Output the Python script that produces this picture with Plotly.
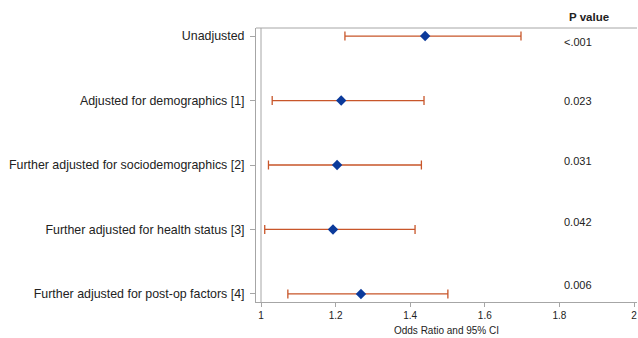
import plotly.graph_objects as go

labels = ["Unadjusted",
          "Adjusted for demographics [1]",
          "Further adjusted for sociodemographics [2]",
          "Further adjusted for health status [3]",
          "Further adjusted for post-op factors [4]"]
odds_ratio = [1.44, 1.215, 1.204, 1.193, 1.268]
ci_lower = [1.225, 1.03, 1.02, 1.01, 1.072]
ci_upper = [1.697, 1.437, 1.43, 1.413, 1.501]
p_values = ["<.001", "0.023", "0.031", "0.042", "0.006"]
x_ticks = [1, 1.2, 1.4, 1.6, 1.8, 2]
x_tick_text = ["1", "1.2", "1.4", "1.6", "1.8", "2"]
reference_or = 1
p_col_x = 1.85
p_header_x = 1.878
p_yshift = [-6, 0, 4, 7, 9]

err_color = "#C8562A"
mk_color = "#0B3A9B"
axis_color = "#A6A6A6"
font_fam = "Liberation Sans, Arial, sans-serif"

fig = go.Figure()
fig.add_trace(go.Scatter(
    x=odds_ratio, y=list(range(len(labels))), mode="markers",
    marker=dict(symbol="diamond", size=8, color=mk_color),
    error_x=dict(type="data", symmetric=False,
                 array=[u - o for u, o in zip(ci_upper, odds_ratio)],
                 arrayminus=[o - l for o, l in zip(odds_ratio, ci_lower)],
                 color=err_color, thickness=1.3, width=4.5),
    showlegend=False, hoverinfo="skip"))

fig.add_shape(type="line", xref="x", yref="paper", x0=reference_or, x1=reference_or,
              y0=0, y1=1, line=dict(color=axis_color, width=1), layer="below")

for i, p in enumerate(p_values):
    fig.add_annotation(x=p_col_x, y=i, xref="x", yref="y", text=p, showarrow=False,
                       yshift=p_yshift[i], font=dict(size=11, color="#222", family=font_fam))
fig.add_annotation(x=p_header_x, y=1, xref="x", yref="paper", yanchor="bottom", yshift=3,
                   text="<b>P value</b>", showarrow=False,
                   font=dict(size=11.5, color="#222", family=font_fam))

fig.update_layout(
    width=638, height=338, margin=dict(l=256, r=1, t=28, b=36),
    paper_bgcolor="white", plot_bgcolor="white",
    font=dict(family=font_fam, color="#222"),
    xaxis=dict(range=[0.9866, 2.008], tickvals=x_ticks, ticktext=x_tick_text,
               showgrid=False, zeroline=False, showline=True, linecolor=axis_color,
               linewidth=1, mirror=False, ticks="outside", ticklen=4, tickcolor=axis_color,
               ticklabeloverflow="allow",
               tickfont=dict(size=10), title=dict(text="Odds Ratio and 95% CI",
               font=dict(size=10), standoff=6)),
    yaxis=dict(range=[4.125, -0.125], tickvals=list(range(len(labels))), ticktext=labels,
               showgrid=False, zeroline=False, showline=True, linecolor=axis_color,
               linewidth=1, ticks="outside", ticklen=5, tickcolor=axis_color,
               ticklabelstandoff=3, tickfont=dict(size=12.4)),
)
fig.add_shape(type="line", xref="paper", yref="paper", x0=0, x1=1, y0=1, y1=1,
              line=dict(color=axis_color, width=1))

fig.write_html("out.html", config={"displayModeBar": False},
               post_script="document.body.style.margin='0';document.body.style.overflow='hidden';")
